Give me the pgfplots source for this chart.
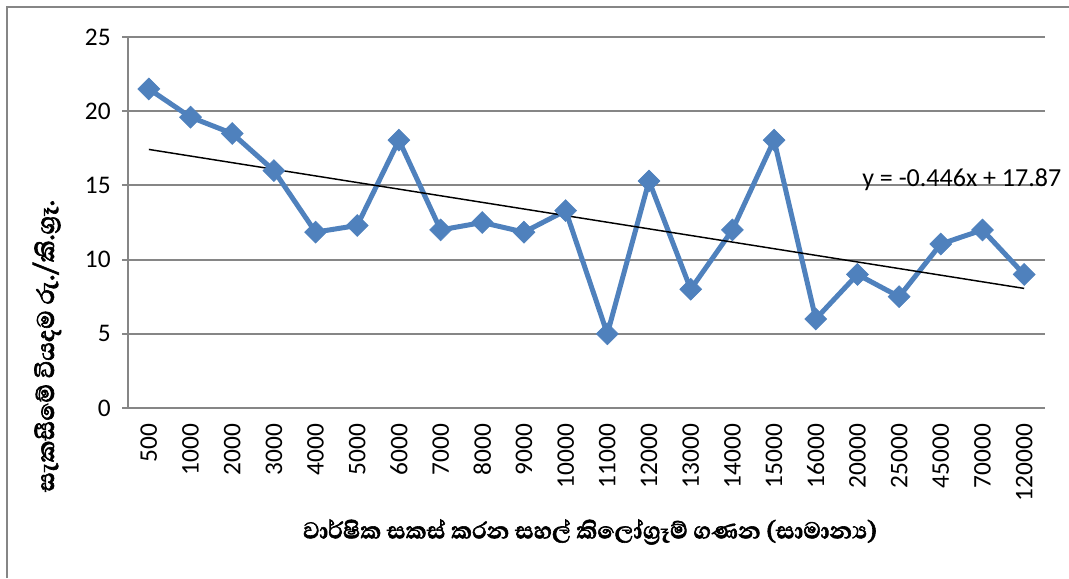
\documentclass[border=0pt]{standalone}
\usepackage{pgfplots}
\pgfplotsset{compat=1.18}
\usepackage{fontspec}
\setmainfont{Carlito}
\newfontfamily\sinhala[Script=Sinhala, FakeBold=2]{Abhaya Libre}
\definecolor{serblue}{HTML}{4F81BD}
\definecolor{gridgray}{HTML}{868686}
\pgfplotstableread{
x y
1 21.5
2 19.6
3 18.5
4 16.0
5 11.85
6 12.3
7 18.05
8 12.0
9 12.5
10 11.85
11 13.3
12 5.0
13 15.3
14 8.0
15 12.0
16 18.05
17 6.0
18 9.0
19 7.5
20 11.05
21 12.0
22 9.0
}\datatable
\begin{document}
\begin{tikzpicture}[x=0.75pt,y=0.75pt]
\path[use as bounding box] (0,0) rectangle (1069,578);
\draw[gridgray, line width=1.5pt] (7,0) -- (7,571) -- (1069,571);
\begin{axis}[
  at={(96pt,127.5pt)}, anchor=south west,
  scale only axis, width=687.75pt, height=278.25pt,
  xmin=0.5, xmax=22.5, ymin=0, ymax=25,
  xtick={1,...,22},
  xticklabels={500,1000,2000,3000,4000,5000,6000,7000,8000,9000,10000,11000,12000,13000,14000,15000,16000,20000,25000,45000,70000,120000},
  ytick={0,5,...,25},
  axis lines*=left,
  axis line style={gridgray, line width=1.5pt},
  ymajorgrids, grid style={gridgray, line width=1.5pt},
  xtick style={draw=none},
  ytick style={gridgray, line width=1.5pt},
  tick align=outside, major tick length=4.5pt,
  ticklabel style={font=\fontsize{19}{21}\selectfont},
  /pgf/number format/assume math mode=true,
  xticklabel style={rotate=90, anchor=east},
  xticklabel shift=4pt,
  yticklabel style={xshift=-5pt},
  clip=false,
]
\addplot[serblue, line width=3.75pt, mark=square*, mark size=5.8pt, mark options={rotate=45, solid, fill=serblue, draw=serblue, line width=0.5pt}] table[x=x,y=y] {\datatable};
\addplot[black, line width=1.1pt] coordinates {(1,17.424) (22,8.058)};
\node[font=\fontsize{19.5}{21}\selectfont, anchor=west, inner sep=0pt] at (axis cs:18.11,15.35) {y = -0.446x + 17.87};
\end{axis}
\node[font=\sinhala\bfseries\fontsize{23}{25}\selectfont, rotate=90] at (47,232) {සැකසීමේ වියදම රු./කි.ග්^^^^200dරෑ.};
\node[font=\sinhala\bfseries\fontsize{22}{24}\selectfont] at (590,46) {වාර්ෂික සකස් කරන සහල් කිලෝග්^^^^200dරෑම් ගණන (සාමාන්^^^^200dය)};
\end{tikzpicture}
\end{document}
